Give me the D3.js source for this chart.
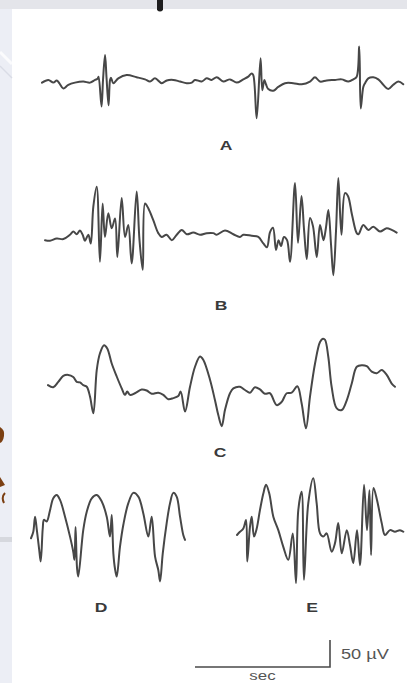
<!DOCTYPE html>
<html>
<head>
<meta charset="utf-8">
<script src="https://cdn.jsdelivr.net/npm/d3@7"></script>
<style>
  html, body { margin: 0; padding: 0; background: #eceef5; overflow: hidden; }
  svg { display: block; }
</style>
</head>
<body>
<svg id="eeg"></svg>
<script>
// each strip: [time in seconds from strip start, amplitude in microvolts]
var traceA = [
    [0,-3],[0.047,2],[0.084,-3],[0.109,1],[0.128,-4],[0.158,-14],[0.195,-7],[0.244,-3],
    [0.306,-1],[0.356,-3],[0.393,2],[0.411,4],[0.419,8],[0.441,-47],[0.452,2],[0.467,48],
    [0.478,6],[0.493,-45],[0.504,2],[0.511,6],[0.528,-4],[0.565,5],[0.627,11],[0.701,7],
    [0.763,3],[0.8,-1],[0.837,5],[0.887,-4],[0.924,1],[0.973,2],[1.022,-1],[1.072,-4],
    [1.109,-3],[1.133,2],[1.183,-1],[1.22,5],[1.257,2],[1.294,7],[1.343,-1],[1.393,3],
    [1.442,-3],[1.491,3],[1.528,8],[1.553,14],[1.565,11],[1.59,-69],[1.619,42],[1.632,-17],
    [1.647,2],[1.659,-6],[1.676,-15],[1.713,-18],[1.75,-11],[1.8,-4],[1.861,-4],[1.924,-6],
    [1.985,-1],[2.022,7],[2.059,-1],[2.109,1],[2.17,2],[2.22,3],[2.269,-1],[2.306,3],
    [2.331,8],[2.35,64],[2.361,-51],[2.38,-11],[2.393,-4],[2.417,5],[2.454,7],[2.491,3],
    [2.528,-7],[2.565,-15],[2.602,-7],[2.639,-1],[2.676,-6]
];
var traceB = [
    [0,-4],[0.037,-5],[0.087,-1],[0.136,-2],[0.185,6],[0.21,12],[0.235,7],[0.259,14],
    [0.279,6],[0.296,-5],[0.321,6],[0.339,-10],[0.358,58],[0.383,95],[0.407,-44],[0.427,64],
    [0.444,2],[0.469,46],[0.494,18],[0.519,36],[0.536,-35],[0.568,74],[0.593,2],[0.617,24],
    [0.642,-47],[0.679,86],[0.7,-4],[0.724,-59],[0.741,64],[0.765,55],[0.802,33],[0.839,9],
    [0.864,2],[0.901,6],[0.939,-4],[0.976,6],[1.013,15],[1.05,7],[1.099,10],[1.148,6],
    [1.198,9],[1.247,9],[1.272,6],[1.333,14],[1.395,7],[1.444,2],[1.469,6],[1.531,4],
    [1.58,2],[1.617,-10],[1.644,-17],[1.667,11],[1.689,19],[1.711,-22],[1.73,-4],[1.748,-15],
    [1.77,2],[1.793,-4],[1.815,-44],[1.852,102],[1.874,-9],[1.9,78],[1.919,15],[1.939,-39],
    [1.963,37],[1.985,22],[2.013,-35],[2.037,24],[2.063,-4],[2.081,19],[2.099,52],[2.119,-13],
    [2.136,-69],[2.156,15],[2.173,111],[2.196,6],[2.222,83],[2.244,78],[2.274,43],[2.309,9],
    [2.322,7],[2.358,24],[2.395,15],[2.432,21],[2.481,12],[2.531,18],[2.568,15],[2.605,10]
];
var traceC = [
    [0,9],[0.039,5],[0.076,15],[0.113,26],[0.15,28],[0.187,24],[0.213,15],[0.237,14],
    [0.261,9],[0.287,6],[0.311,-12],[0.336,-43],[0.361,37],[0.385,68],[0.415,83],[0.439,77],
    [0.472,49],[0.509,25],[0.546,3],[0.57,-9],[0.587,-3],[0.607,-9],[0.644,-6],[0.694,1],
    [0.731,-1],[0.768,-7],[0.817,-5],[0.854,-9],[0.891,-17],[0.928,-15],[0.965,-11],[0.983,-3],
    [1.015,-40],[1.052,6],[1.089,43],[1.126,62],[1.15,56],[1.2,19],[1.237,-19],[1.261,-46],
    [1.287,-67],[1.311,-37],[1.348,-6],[1.373,3],[1.422,6],[1.459,0],[1.496,-5],[1.533,5],
    [1.57,1],[1.607,-7],[1.644,-6],[1.694,-28],[1.731,-22],[1.768,-6],[1.805,-5],[1.847,7],
    [1.879,-25],[1.911,-71],[1.941,-12],[1.978,49],[2.015,89],[2.037,95],[2.052,93],[2.076,62],
    [2.101,6],[2.139,-34],[2.176,-37],[2.213,-19],[2.25,12],[2.287,43],[2.324,46],[2.361,44],
    [2.398,34],[2.435,31],[2.472,37],[2.509,28],[2.546,12],[2.57,6]
];
var traceD = [
    [0,-6],[0.017,6],[0.03,34],[0.042,12],[0.061,-28],[0.072,-49],[0.087,12],[0.096,28],
    [0.116,25],[0.141,46],[0.165,68],[0.19,74],[0.215,65],[0.252,34],[0.289,-3],[0.313,-31],
    [0.322,-46],[0.33,15],[0.341,-61],[0.35,-77],[0.387,9],[0.413,43],[0.45,68],[0.487,74],
    [0.524,62],[0.561,34],[0.585,-3],[0.598,37],[0.61,-34],[0.622,-62],[0.635,-77],[0.659,-22],
    [0.684,19],[0.721,59],[0.758,78],[0.795,71],[0.832,40],[0.869,-3],[0.894,34],[0.919,-40],
    [0.943,-65],[0.956,-86],[0.976,-34],[1.005,22],[1.03,59],[1.054,78],[1.079,71],[1.104,34],
    [1.128,0],[1.141,-9]
];
var traceE = [
    [0,0],[0.022,6],[0.047,12],[0.067,28],[0.076,-49],[0.096,15],[0.109,34],[0.126,-3],
    [0.146,12],[0.17,46],[0.195,77],[0.215,93],[0.239,77],[0.269,34],[0.306,9],[0.343,-22],
    [0.38,-46],[0.413,3],[0.437,-89],[0.454,46],[0.479,80],[0.496,-83],[0.528,59],[0.565,105],
    [0.59,59],[0.615,3],[0.639,-3],[0.664,3],[0.701,-31],[0.726,-15],[0.75,22],[0.776,-34],
    [0.813,9],[0.837,-19],[0.861,-52],[0.889,9],[0.911,-56],[0.941,93],[0.963,9],[0.981,83],
    [0.993,-37],[1.011,87],[1.037,65],[1.072,22],[1.096,0],[1.133,9],[1.17,6],[1.207,9],[1.232,6]
];
var labels = ["A", "B", "C", "D", "E"];
var barSeconds = 1;
var barMicrovolts = 50;
var barTexts = ["50 \u00b5V", "sec"];

var dimensions = {
    width: 407,
    height: 683,
    pxPerSec: 135,
    pxPerUV: 0.54
};

// where each strip sits on the page
var strips = [
    { data: traceA, label: labels[0], x0: 42, base: 81, lx: 226, ly: 150 },
    { data: traceB, label: labels[1], x0: 45, base: 238, lx: 221, ly: 310 },
    { data: traceC, label: labels[2], x0: 48, base: 390, lx: 220, ly: 457 },
    { data: traceD, label: labels[3], x0: 31, base: 535, lx: 101, ly: 612 },
    { data: traceE, label: labels[4], x0: 237, base: 535, lx: 312, ly: 612 }
];

var svg = d3.select("#eeg")
    .attr("width", dimensions.width)
    .attr("height", dimensions.height);

// slide background bits around the figure
svg.append("rect").attr("x", 0).attr("y", 0).attr("width", 407).attr("height", 683).attr("fill", "#eceef5");
svg.append("rect").attr("x", 0).attr("y", 0).attr("width", 407).attr("height", 9).attr("fill", "#e4e5ea");
svg.append("rect").attr("x", 12).attr("y", 9).attr("width", 395).attr("height", 674).attr("fill", "#ffffff");
svg.append("path").attr("d", "M157,0 L163,0 L163,10 Q160,13 157,10 Z").attr("fill", "#1e1e1e");
svg.append("path").attr("d", "M0,52 L12,64").attr("stroke", "#ffffff").attr("stroke-width", 3).attr("opacity", 0.8);
svg.append("path").attr("d", "M0,66 L12,78").attr("stroke", "#d9dce6").attr("stroke-width", 1.5);
svg.append("rect").attr("x", 0).attr("y", 537).attr("width", 12).attr("height", 5).attr("fill", "#d6d8de");
svg.append("path").attr("d", "M0,427 Q5,430 4,436 Q3,442 0,443 Z").attr("fill", "#7b3f12");
svg.append("path").attr("d", "M0,477 L5,485 L0,487 Z").attr("fill", "#7b3f12");
svg.append("path").attr("d", "M5,493 Q1,497 4,503").attr("fill", "none").attr("stroke", "#7b3f12").attr("stroke-width", 2);

// traces
strips.forEach(function(s) {
    var xScale = d3.scaleLinear()
        .domain([0, 1])
        .range([s.x0, s.x0 + dimensions.pxPerSec]);
    var yScale = d3.scaleLinear()
        .domain([0, 50])
        .range([s.base, s.base - 50 * dimensions.pxPerUV]);

    var line = d3.line()
        .x(d => xScale(d[0]))
        .y(d => yScale(d[1]))
        .curve(d3.curveCatmullRom.alpha(0.5));

    svg.append("path")
        .datum(s.data)
        .attr("d", line)
        .attr("fill", "none")
        .attr("stroke", "#474747")
        .attr("stroke-width", 2)
        .attr("stroke-linejoin", "round")
        .attr("stroke-linecap", "round");

    svg.append("text")
        .attr("transform", "translate(" + s.lx + "," + s.ly + ") scale(1.35,1)")
        .attr("text-anchor", "middle")
        .style("font-family", "'Liberation Sans', Arial, sans-serif")
        .style("font-weight", "bold")
        .style("font-size", "13px")
        .attr("fill", "#3a3a3a")
        .text(s.label);
});

// calibration bar
var barX = d3.scaleLinear().domain([0, barSeconds]).range([195, 195 + barSeconds * dimensions.pxPerSec]);
var barY = d3.scaleLinear().domain([0, barMicrovolts]).range([667, 667 - barMicrovolts * dimensions.pxPerUV]);

svg.append("path")
    .attr("d", "M" + barX(0) + "," + barY(0) + " L" + barX(barSeconds) + "," + barY(0) + " L" + barX(barSeconds) + "," + barY(barMicrovolts))
    .attr("fill", "none")
    .attr("stroke", "#4a4a4a")
    .attr("stroke-width", 1.6);

svg.append("text")
    .attr("transform", "translate(341," + (barY(barMicrovolts / 2) + 5) + ") scale(1.3,1)")
    .style("font-family", "'Liberation Sans', Arial, sans-serif")
    .style("font-size", "14px")
    .attr("fill", "#555")
    .text(barTexts[0]);

svg.append("text")
    .attr("transform", "translate(" + barX(barSeconds / 2) + ",680) scale(1.3,1)")
    .attr("text-anchor", "middle")
    .style("font-family", "'Liberation Sans', Arial, sans-serif")
    .style("font-size", "13px")
    .attr("fill", "#555")
    .text(barTexts[1]);
</script>
</body>
</html>
